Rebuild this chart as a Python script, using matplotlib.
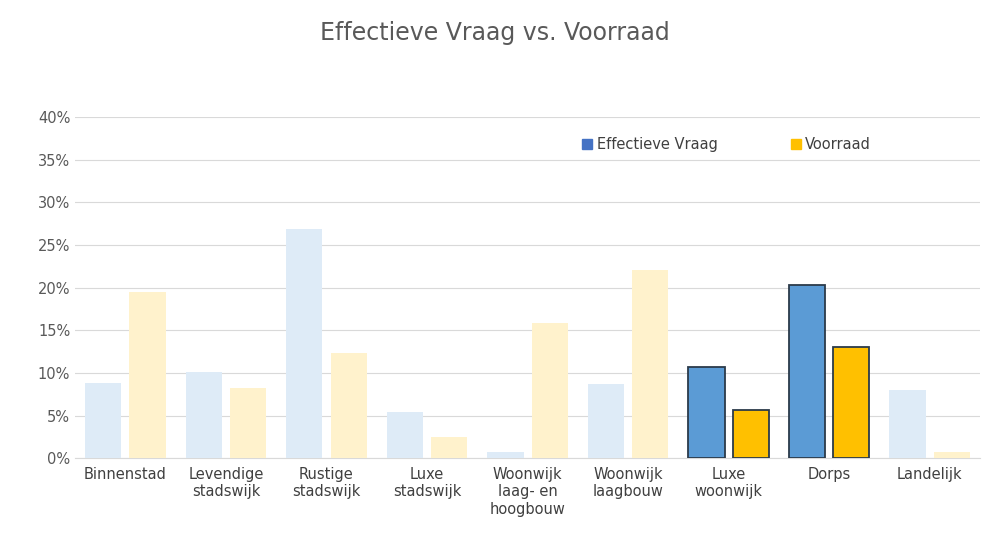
import matplotlib
matplotlib.use("Agg")
import matplotlib.pyplot as plt
import numpy as np
from matplotlib.patches import Patch

categories = ["Binnenstad", "Levendige\nstadswijk", "Rustige\nstadswijk", "Luxe\nstadswijk",
              "Woonwijk\nlaag- en\nhoogbouw", "Woonwijk\nlaagbouw", "Luxe\nwoonwijk", "Dorps", "Landelijk"]
vraag = [8.8, 10.1, 26.9, 5.4, 0.7, 8.7, 10.7, 20.3, 8.0]
voorraad = [19.5, 8.2, 12.3, 2.5, 15.8, 22.1, 5.7, 13.0, 0.7]
highlight = [False, False, False, False, False, False, True, True, False]

fig = plt.figure(figsize=(10.02, 5.51), dpi=100)
ax = fig.add_axes([0.075, 0.168, 0.903, 0.62])
x = np.arange(len(categories))
w = 0.36
for i in x:
    if highlight[i]:
        ax.bar(i - 0.22, vraag[i], w, color="#5B9BD5", edgecolor="#2B3A4A", linewidth=1.3, zorder=3)
        ax.bar(i + 0.22, voorraad[i], w, color="#FFC000", edgecolor="#2B3A4A", linewidth=1.3, zorder=3)
    else:
        ax.bar(i - 0.22, vraag[i], w, color="#DEEBF7", zorder=3)
        ax.bar(i + 0.22, voorraad[i], w, color="#FFF2CC", zorder=3)

ax.set_xlim(-0.5, len(categories) - 0.5)
ax.set_ylim(0, 40)
ax.set_yticks(range(0, 41, 5))
ax.set_yticklabels([f"{v}%" for v in range(0, 41, 5)])
ax.set_xticks(x)
ax.set_xticklabels(categories, fontsize=10.5, color="#404040", va="top")
ax.tick_params(axis="y", labelsize=10.5, colors="#595959", length=0)
ax.tick_params(axis="x", length=0, pad=6)
ax.grid(axis="y", color="#D9D9D9", linewidth=0.8, zorder=0)
for s in ["top", "right", "left"]:
    ax.spines[s].set_visible(False)
ax.spines["bottom"].set_color("#D9D9D9")

fig.text(0.494, 0.94, "Effectieve Vraag vs. Voorraad", ha="center", va="center", fontsize=17, color="#595959")
handles = [Patch(color="#4472C4"), Patch(color="#FFC000")]
ax.legend(handles, ["Effectieve Vraag", "Voorraad"], loc="upper center", bbox_to_anchor=(0.72, 0.98),
          ncol=2, frameon=False, fontsize=10.5, handlelength=0.7, handleheight=0.7,
          columnspacing=5, handletextpad=0.3, labelcolor="#404040")
fig.savefig("out.png", dpi=100)
